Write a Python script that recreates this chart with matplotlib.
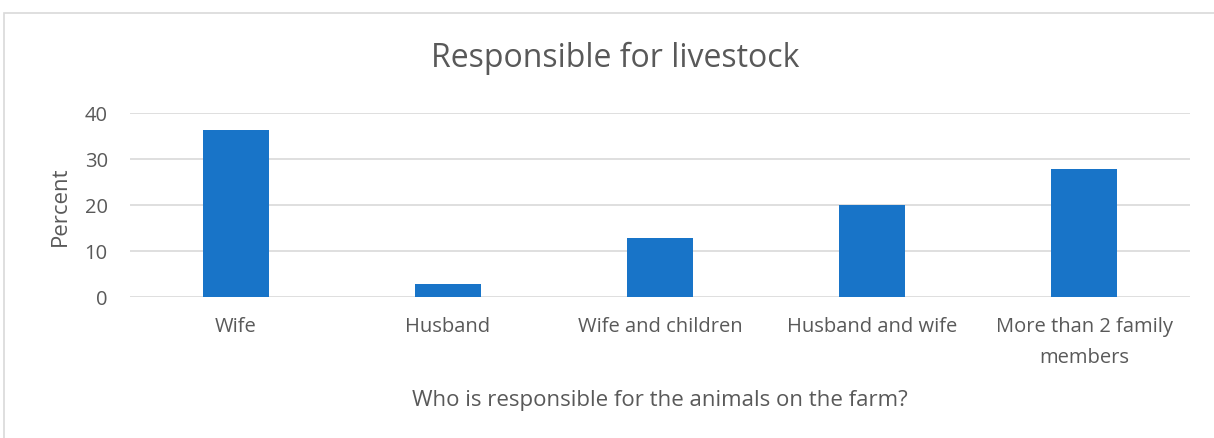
import matplotlib
matplotlib.use('Agg')
import matplotlib.pyplot as plt
from matplotlib.patches import Rectangle

categories = ['Wife', 'Husband', 'Wife and children', 'Husband and wife',
              'More than 2 family\nmembers']
percent = [36.4, 2.8, 12.8, 20.0, 27.8]
yticks = [0, 10, 20, 30, 40]

plt.rcParams['font.family'] = ['Open Sans', 'DejaVu Sans']
txt = '#595959'

fig = plt.figure(figsize=(12.14, 4.39), dpi=100)
W, H = 1214, 439
ax = fig.add_axes([130 / W, 1 - 298 / H, (1190 - 130) / W, (298 - 114) / H])

# chart border
fig.patches.append(Rectangle((4 / W, -0.1), 1.1, 1 - 14 / H + 0.1, transform=fig.transFigure,
                             fill=False, edgecolor='#D9D9D9', linewidth=1.2))

x = range(len(categories))
ax.bar(x, percent, width=0.316, color='#1874C8', zorder=3)
ax.set_xlim(-0.5, len(categories) - 0.5)
ax.set_ylim(0, 40)
ax.set_yticks(yticks)
ax.set_xticks(list(x))
ax.set_xticklabels(categories, fontsize=14.5, color=txt, linespacing=1.7, va='top')
ax.tick_params(axis='y', labelsize=14.5, labelcolor=txt, length=0, pad=16)
ax.tick_params(axis='x', length=0, pad=14)
ax.grid(axis='y', color='#D9D9D9', linewidth=1.2, zorder=0)
for s in ax.spines.values():
    s.set_visible(False)

ax.set_ylabel('Percent', fontsize=16, color=txt, labelpad=10)
ax.set_xlabel('Who is responsible for the animals on the farm?', fontsize=16,
              color=txt, labelpad=16)
fig.text(615 / W, 1 - 58 / H, 'Responsible for livestock', fontsize=23, color=txt,
         ha='center', va='center')

fig.savefig('out.png', dpi=100)
